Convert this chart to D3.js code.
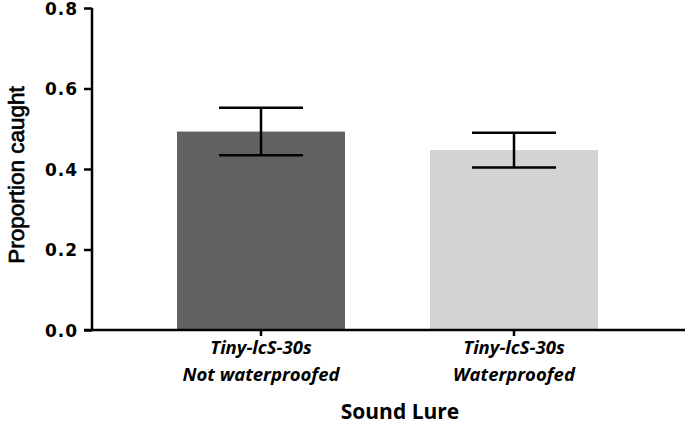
<!DOCTYPE html>
<html>
<head>
<meta charset="utf-8">
<script src="https://cdn.jsdelivr.net/npm/d3@7"></script>
<style>
  body { margin: 0; background: #fff; }
  svg { display: block; }
</style>
</head>
<body>
<div id="chart"></div>
<script>
// data
const categories = ['Tiny-lcS-30s|Not waterproofed', 'Tiny-lcS-30s|Waterproofed'];
const means = [0.493, 0.447];
const errors = [0.059, 0.043];
const barColors = ['#626262', '#d3d3d3'];
const yTicks = [0.0, 0.2, 0.4, 0.6, 0.8];

const width = 685, height = 426;
const margin = { left: 92, right: 2, top: 8, bottom: 96 };

const svg = d3.select('#chart').append('svg')
    .attr('width', width)
    .attr('height', height);

const y = d3.scaleLinear()
    .domain([0, 0.8])
    .range([height - margin.bottom, margin.top]);

const x = d3.scaleBand()
    .domain(categories)
    .range([margin.left, width - margin.right])
    .paddingInner(0.336)
    .paddingOuter(0.336);

// bars
svg.append('g')
    .selectAll('rect')
    .data(categories)
    .enter().append('rect')
    .attr('x', d => x(d))
    .attr('width', x.bandwidth())
    .attr('y', (d, i) => y(means[i]))
    .attr('height', (d, i) => y(0) - y(means[i]))
    .attr('fill', (d, i) => barColors[i]);

// error bars
const capHalf = 42;
const err = svg.append('g')
    .attr('stroke', '#000')
    .attr('stroke-width', 2.5);
categories.forEach((c, i) => {
    const cx = x(c) + x.bandwidth() / 2;
    const hi = y(means[i] + errors[i]);
    const lo = y(means[i] - errors[i]);
    err.append('line').attr('x1', cx).attr('x2', cx).attr('y1', hi).attr('y2', lo);
    err.append('line').attr('x1', cx - capHalf).attr('x2', cx + capHalf).attr('y1', hi).attr('y2', hi);
    err.append('line').attr('x1', cx - capHalf).attr('x2', cx + capHalf).attr('y1', lo).attr('y2', lo);
});

// y axis
const yAxis = svg.append('g')
    .attr('transform', `translate(${margin.left},0)`)
    .call(d3.axisLeft(y).tickValues(yTicks).tickFormat(d3.format('.1f')).tickSize(8).tickPadding(6));
yAxis.select('.domain').attr('d', `M0,${y(0)}V${y(0.8)}`);
yAxis.selectAll('line, path').attr('stroke', '#000').attr('stroke-width', 2.5);
yAxis.selectAll('text')
    .attr('font-family', 'DejaVu Sans')
    .attr('font-weight', 'bold')
    .attr('font-size', 17)
    .attr('letter-spacing', 1)
    .attr('dy', '0.36em')
    .attr('fill', '#000');

// x axis
const xAxis = svg.append('g')
    .attr('transform', `translate(0,${y(0)})`)
    .call(d3.axisBottom(x).tickSize(6).tickFormat(''));
xAxis.select('.domain').attr('d', `M84,0H${width}`);
xAxis.selectAll('line, path').attr('stroke', '#000').attr('stroke-width', 2.5);

// category labels (two lines)
categories.forEach(c => {
    const cx = x(c) + x.bandwidth() / 2;
    const t = svg.append('text')
        .attr('text-anchor', 'middle')
        .attr('font-family', 'Open Sans')
        .attr('font-style', 'italic')
        .attr('font-weight', 'bold')
        .attr('font-size', 18.5)
        .attr('fill', '#000');
    c.split('|').forEach((line, j) => {
        t.append('tspan')
            .attr('x', cx)
            .attr('y', 354 + j * 27)
            .text(line);
    });
});

// axis titles
svg.append('text')
    .attr('x', 400)
    .attr('y', 419)
    .attr('text-anchor', 'middle')
    .attr('font-family', 'Open Sans')
    .attr('font-weight', 'bold')
    .attr('font-size', 21)
    .attr('fill', '#000')
    .text('Sound Lure');

svg.append('text')
    .attr('transform', `translate(24,175) rotate(-90)`)
    .attr('text-anchor', 'middle')
    .attr('font-family', 'Liberation Sans')
    .attr('font-size', 22.5)
    .attr('fill', '#000')
    .attr('stroke', '#000')
    .attr('stroke-width', 0.7)
    .text('Proportion caught');
</script>
</body>
</html>
